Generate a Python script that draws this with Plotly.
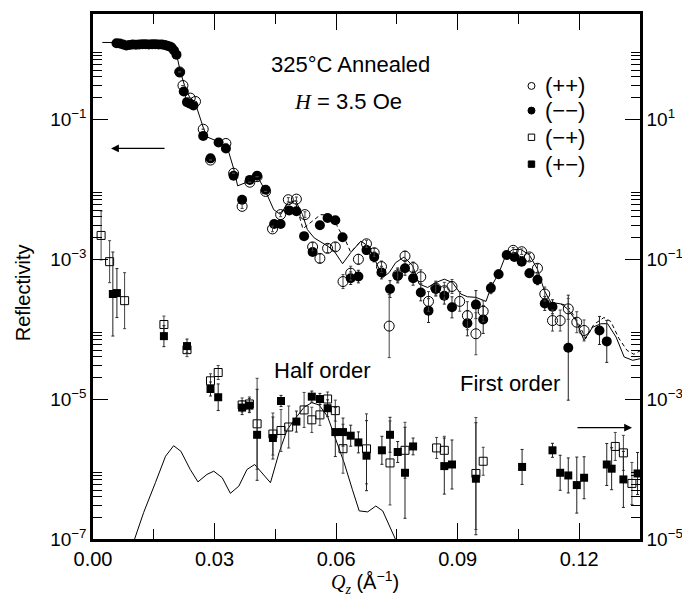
import plotly.graph_objects as go

# ---------------- data ----------------
# (--) filled circles
mm_q = [0.0058, 0.0066, 0.0074, 0.0082, 0.0090, 0.0098, 0.0106, 0.0114, 0.0122, 0.0130,
        0.0138, 0.0146, 0.0154, 0.0162, 0.0170, 0.0177, 0.0183, 0.0189, 0.0194, 0.0200,
        0.0206, 0.0214, 0.0224, 0.0232, 0.0240, 0.0248, 0.0272, 0.0290, 0.0310, 0.0328,
        0.0347, 0.0368, 0.0387, 0.0405, 0.0426, 0.0447, 0.0463, 0.0484, 0.0502, 0.0521,
        0.0542, 0.0560, 0.0579, 0.0598, 0.0616, 0.0636, 0.0655, 0.0675, 0.0694, 0.0712,
        0.0733, 0.0752, 0.0770, 0.0790, 0.0809, 0.0828, 0.0846, 0.0867, 0.0886, 0.0924,
        0.0945, 0.0963, 0.0982, 0.1001, 0.1021, 0.1040, 0.1058, 0.1077, 0.1097, 0.1115,
        0.1134, 0.1173, 0.1250, 0.1268]
mm_r = [1.21, 1.20, 1.16, 1.12, 1.14, 1.16, 1.15, 1.16, 1.17, 1.17,
        1.16, 1.17, 1.17, 1.16, 1.16, 1.14, 1.11, 1.09, 1.05, 0.95,
        0.83, 0.464, 0.247, 0.174, 0.165, 0.156, 0.0574, 0.0274, 0.0461, 0.0379,
        0.0155, 7.03e-3, 0.0135, 0.0155, 9.75e-3, 3.17e-3, 3.17e-3, 4.95e-3, 4.80e-3, 2.12e-3,
        1.26e-3, 3.03e-3, 3.85e-3, 3.57e-3, 2.05e-3, 5.32e-4, 5.61e-4, 1.34e-3, 1.07e-3, 6.40e-4,
        3.72e-4, 5.74e-4, 7.38e-4, 5.32e-4, 3.33e-4, 1.83e-4, 3.72e-4, 2.99e-4, 2.04e-4, 1.21e-4,
        2.23e-4, 1.37e-4, 3.84e-4, 6.07e-4, 1.14e-3, 1.07e-3, 9.16e-4, 6.27e-4, 5.04e-4, 2.32e-4,
        2.08e-4, 5.41e-5, 9.53e-5, 6.65e-5]
# error half-widths in decades
mm_err = [0] * 34 + [0.03, 0.03, 0.03, 0.03, 0.03, 0.04,
                     0.05, 0.04, 0.04, 0.04, 0.05, 0.09, 0.09, 0.06, 0.07, 0.09,
                     0.12, 0.10, 0.10, 0.10, 0.12, 0.17, 0.10, 0.12, 0.15, 0.18,
                     0.20, 0.20, 0.08, 0.06, 0.04, 0.04, 0.05, 0.06, 0.07, 0.10,
                     0.10, 0.75, 0.20, 0.30]

# (++) open circles
pp_q = [0.0214, 0.0222, 0.0240, 0.0253, 0.0272, 0.0290, 0.0328, 0.0347, 0.0368, 0.0387,
        0.0405, 0.0426, 0.0443, 0.0463, 0.0482, 0.0502, 0.0523, 0.0542, 0.0560, 0.0579,
        0.0598, 0.0617, 0.0636, 0.0655, 0.0675, 0.0694, 0.0712, 0.0731, 0.0752, 0.0770,
        0.0790, 0.0809, 0.0828, 0.0846, 0.0867, 0.0886, 0.0905, 0.0924, 0.0945, 0.0963,
        0.1037, 0.1058, 0.1077, 0.1097, 0.1115, 0.1134, 0.1153, 0.1173, 0.1194, 0.1212]
pp_r = [0.47, 0.301, 0.199, 0.178, 0.0715, 0.0259, 0.0447, 0.0168, 5.65e-3, 0.0125,
        0.0150, 9.23e-3, 2.69e-3, 4.31e-3, 7.03e-3, 7.17e-3, 4.31e-3, 1.49e-3, 1.02e-3, 1.42e-3,
        1.49e-3, 4.76e-4, 6.27e-4, 9.91e-4, 1.65e-3, 1.23e-3, 7.78e-4, 1.10e-4, 5.93e-4, 1.10e-3,
        7.53e-4, 5.56e-4, 2.48e-4, 3.84e-4, 3.52e-4, 4.05e-4, 2.48e-4, 1.55e-4, 8.55e-5, 1.79e-4,
        1.33e-3, 1.27e-3, 1.07e-3, 7.38e-4, 3.16e-4, 1.32e-4, 1.32e-4, 1.94e-4, 1.25e-4, 9.53e-5]
pp_err = [0, 0, 0, 0, 0, 0, 0, 0, 0.03, 0,
          0, 0, 0.04, 0.03, 0.03, 0.03, 0.04, 0.06, 0.06, 0.06,
          0.06, 0.10, 0.10, 0.07, 0.05, 0.06, 0.08, 0.45, 0.10, 0.07,
          0.08, 0.10, 0.14, 0.10, 0.12, 0.10, 0.14, 0.20, 0.30, 0.15,
          0.04, 0.04, 0.05, 0.06, 0.10, 0.15, 0.15, 0.15, 0.15, 0.15]

# (-+) open squares
mp_q = [0.0020, 0.0041, 0.0078, 0.0175, 0.0232, 0.0290, 0.0309, 0.0368, 0.0386, 0.0405,
        0.0444, 0.0464, 0.0483, 0.0521, 0.0540, 0.0560, 0.0579, 0.0598, 0.0617, 0.0675,
        0.0733, 0.0770, 0.0848, 0.0867, 0.0945, 0.0963, 0.1289, 0.1309, 0.1330]
mp_r = [2.17e-3, 9.16e-4, 2.54e-4, 1.16e-4, 5.07e-5, 1.82e-5, 2.39e-5, 8.22e-6, 8.49e-6, 4.42e-6,
        3.16e-6, 3.55e-6, 3.98e-6, 6.98e-6, 5.04e-6, 5.93e-6, 1.0e-5, 6.82e-6, 1.95e-6, 1.94e-6,
        1.22e-6, 1.85e-6, 2.0e-6, 1.85e-6, 8.63e-7, 1.29e-6, 2.10e-6, 1.70e-6, 6.22e-7]
mp_err = [0.35, 0.30, 0.40, 0.12, 0.10, 0.10, 0.10, 0.10, 0.10, 0.65,
          0.30, 0.30, 0.30, 0.25, 0.18, 0.15, 0.10, 0.15, 0.35, 0.50,
          0.60, 0.40, 0.15, 0.20, 0.80, 0.20, 0.20, 0.25, 0.30]

# (+-) filled squares
pm_q = [0.0049, 0.0059, 0.0175, 0.0232, 0.0290, 0.0309, 0.0368, 0.0386, 0.0405, 0.0444,
        0.0464, 0.0502, 0.0540, 0.0560, 0.0579, 0.0598, 0.0617, 0.0636, 0.0655, 0.0675,
        0.0713, 0.0733, 0.0752, 0.0770, 0.0790, 0.0867, 0.0886, 0.0945, 0.1059, 0.1134,
        0.1153, 0.1173, 0.1194, 0.1212, 0.1268, 0.1280, 0.1309, 0.1344]
pm_r = [3.16e-4, 3.26e-4, 7.91e-5, 5.70e-5, 1.39e-5, 1.06e-5, 7.54e-6, 8.04e-6, 3.08e-6, 2.77e-6,
        9.37e-6, 4.76e-6, 1.08e-5, 1.0e-5, 7.38e-6, 3.37e-6, 3.37e-6, 2.99e-6, 2.40e-6, 1.55e-6,
        1.85e-6, 3.08e-6, 1.75e-6, 8.83e-7, 2.10e-6, 1.10e-6, 1.16e-6, 7.26e-7, 1.07e-6, 1.85e-6,
        8.83e-7, 8.09e-7, 5.89e-7, 7.50e-7, 1.16e-6, 1.01e-6, 7.10e-7, 8.63e-7]
pm_err = [0.60, 0.35, 0.15, 0.10, 0.10, 0.19, 0.10, 0.10, 0.65, 0.30,
          0.08, 0.15, 0.08, 0.08, 0.12, 0.35, 0.20, 0.15, 0.15, 0.50,
          0.20, 0.25, 0.15, 0.65, 0.12, 0.40, 0.35, 0.80, 0.25, 0.10,
          0.25, 0.25, 0.40, 0.30, 0.30, 0.30, 0.40, 0.30]

# non-spin-flip fit (solid)
fit_q = [0.0023, 0.0059, 0.0192, 0.0207, 0.0216, 0.0226, 0.0240, 0.0257, 0.0273, 0.0281,
         0.0310, 0.0331, 0.0347, 0.0357, 0.0384, 0.0405, 0.0426, 0.0446, 0.0463, 0.0480,
         0.0500, 0.0517, 0.0529, 0.0546, 0.0579, 0.0595, 0.0616, 0.0636, 0.0661, 0.0679,
         0.0694, 0.0715, 0.0731, 0.0747, 0.0768, 0.0789, 0.0805, 0.0826, 0.0846, 0.0867,
         0.0887, 0.0908, 0.0924, 0.0945, 0.0970, 0.0982, 0.1002, 0.1019, 0.1036, 0.1056,
         0.1077, 0.1097, 0.1114, 0.1130, 0.1155, 0.1171, 0.1192, 0.1212, 0.1233, 0.1254,
         0.1270, 0.1291, 0.1311, 0.1332, 0.1352]
fit_r = [1.24, 1.24, 1.20, 0.80, 0.464, 0.301, 0.194, 0.140, 0.0728, 0.0556,
         0.0472, 0.0401, 0.0197, 0.0111, 0.0128, 0.0155, 9.23e-3, 5.07e-3, 4.31e-3, 6.30e-3,
         6.81e-3, 4.31e-3, 2.64e-3, 2.00e-3, 1.53e-3, 1.30e-3, 8.57e-4, 1.23e-3, 1.80e-3, 1.53e-3,
         1.04e-3, 5.43e-4, 6.40e-4, 8.87e-4, 1.07e-3, 7.96e-4, 4.38e-4, 3.92e-4, 4.61e-4, 5.15e-4,
         4.61e-4, 3.16e-4, 2.89e-4, 2.83e-4, 2.48e-4, 3.92e-4, 6.40e-4, 1.14e-3, 1.37e-3, 1.37e-3,
         1.14e-3, 7.14e-4, 3.52e-4, 2.40e-4, 2.28e-4, 1.94e-4, 1.32e-4, 6.87e-5, 1.06e-4, 1.19e-4,
         1.19e-4, 7.66e-5, 3.98e-5, 3.57e-5, 3.78e-5]

# second fit (dashed), where it separates from the solid one
dash_q = [0.0463, 0.0480, 0.0500, 0.0518, 0.0542, 0.0562, 0.0594, 0.0603, 0.0624, 0.0636, 0.0661,
          None,
          0.1155, 0.1171, 0.1197, 0.1216, 0.1236, 0.1261, 0.1278, 0.1298, 0.1318, 0.1335, 0.1352]
dash_r = [4.5e-3, 6.2e-3, 6.4e-3, 2.7e-3, 3.5e-3, 4.3e-3, 4.2e-3, 2.9e-3, 1.8e-3, 1.25e-3, 1.8e-3,
          None,
          2.28e-4, 2.16e-4, 1.24e-4, 7.33e-5, 1.16e-4, 1.46e-4, 1.28e-4, 7.33e-5, 4.95e-5, 4.35e-5, 4.95e-5]

# spin-flip fit (solid, lower)
sf_q = [0.0100, 0.0125, 0.0154, 0.0179, 0.0199, 0.0217, 0.0240, 0.0259, 0.0281, 0.0298,
        0.0319, 0.0339, 0.0360, 0.0380, 0.0399, 0.0417, 0.0438, 0.0459, 0.0479, 0.0500,
        0.0521, 0.0540, 0.0558, 0.0579, 0.0599, 0.0620, 0.0640, 0.0657, 0.0678, 0.0698,
        0.0715, 0.0731, 0.0746, 0.0755]
sf_r = [9.0e-8, 2.39e-7, 6.37e-7, 1.52e-6, 2.15e-6, 1.79e-6, 9.84e-7, 6.55e-7, 8.35e-7, 9.31e-7,
        7.50e-7, 4.49e-7, 5.70e-7, 9.84e-7, 1.16e-6, 8.83e-7, 6.37e-7, 1.70e-6, 3.63e-6, 5.32e-6,
        7.62e-6, 8.87e-6, 8.22e-6, 5.61e-6, 2.61e-6, 1.22e-6, 5.12e-7, 2.52e-7, 2.44e-7, 2.96e-7,
        2.52e-7, 1.55e-7, 1.0e-7, 7.7e-8]

x_ticks = [0.0, 0.03, 0.06, 0.09, 0.12]
x_ticktext = ["0.00", "0.03", "0.06", "0.09", "0.12"]
yl_ticks = [1e-7, 1e-5, 1e-3, 1e-1]
yl_ticktext = ["10<sup>\u22127</sup>", "10<sup>\u22125</sup>", "10<sup>\u22123</sup>", "10<sup>\u22121</sup>"]
yr_ticks = [1e-5, 1e-3, 1e-1, 1e1]
yr_ticktext = ["10<sup>\u22125</sup>", "10<sup>\u22123</sup>", "10<sup>\u22121</sup>", "10<sup>1</sup>"]
legend_labels = ["(++)", "(\u2212\u2212)", "(\u2212+)", "(+\u2212)"]

FONT = "Liberation Sans"


def err_bars(vals, dex, color):
    plus = [v * (10 ** d - 1) for v, d in zip(vals, dex)]
    minus = [v * (1 - 10 ** (-d)) for v, d in zip(vals, dex)]
    return dict(type="data", symmetric=False, array=plus, arrayminus=minus,
                thickness=1, width=1.5, color=color, visible=True)


fig = go.Figure()

# fit curves
fig.add_trace(go.Scatter(x=fit_q, y=fit_r, mode="lines",
                         line=dict(color="black", width=1), hoverinfo="skip"))
fig.add_trace(go.Scatter(x=dash_q, y=dash_r, mode="lines", connectgaps=False,
                         line=dict(color="black", width=1, dash="4px,3px"), hoverinfo="skip"))
fig.add_trace(go.Scatter(x=sf_q, y=sf_r, mode="lines",
                         line=dict(color="black", width=1), hoverinfo="skip"))

# spin-flip data
fig.add_trace(go.Scatter(x=mp_q, y=mp_r, mode="markers", name="(-+)",
                         marker=dict(symbol="square-open", size=8, color="black",
                                     line=dict(width=1, color="black")),
                         error_y=err_bars(mp_r, mp_err, "#444")))
fig.add_trace(go.Scatter(x=pm_q, y=pm_r, mode="markers", name="(+-)",
                         marker=dict(symbol="square", size=8, color="black"),
                         error_y=err_bars(pm_r, pm_err, "#222")))
# non-spin-flip data
fig.add_trace(go.Scatter(x=mm_q, y=mm_r, mode="markers", name="(--)",
                         marker=dict(symbol="circle", size=10, color="black"),
                         error_y=err_bars(mm_r, mm_err, "#222")))
fig.add_trace(go.Scatter(x=pp_q, y=pp_r, mode="markers", name="(++)",
                         marker=dict(symbol="circle-open", size=10, color="black",
                                     line=dict(width=1, color="black")),
                         error_y=err_bars(pp_r, pp_err, "#444")))

# invisible trace anchoring the right axis
fig.add_trace(go.Scatter(x=[0.0], y=[1.0], yaxis="y2", mode="markers",
                         marker=dict(size=1, opacity=0), hoverinfo="skip"))

minor_left = [k * 10.0 ** d for d in (-7, -5, -3, -1) for k in range(2, 10)]
minor_right = [k * 10.0 ** d for d in (-5, -3, -1, 1) for k in range(2, 10)]

axis_common = dict(showline=True, linecolor="black", linewidth=2.5, ticks="inside",
                   tickcolor="black", tickwidth=1.4, showgrid=False, zeroline=False)

# page body has an 8px margin, so the figure is 8px smaller than the window
fig.update_layout(
    width=682, height=589,
    margin=dict(l=85, r=50, t=3, b=58),
    plot_bgcolor="white", paper_bgcolor="white",
    showlegend=False,
    font=dict(family=FONT, color="black"),
    xaxis=dict(range=[0, 0.135], tickvals=x_ticks, ticktext=x_ticktext, ticklen=16,
               mirror="ticks", tickfont=dict(size=20, family=FONT),
               minor=dict(tickvals=[0.015, 0.045, 0.075, 0.105], ticklen=10,
                          tickwidth=1.4, tickcolor="black", ticks="inside"),
               **axis_common),
    yaxis=dict(type="log", range=[-7, 0.5], tickvals=yl_ticks, ticktext=yl_ticktext,
               ticklen=15, tickfont=dict(size=19, family=FONT),
               minor=dict(tickvals=minor_left, ticklen=9, tickwidth=1.2,
                          tickcolor="black", ticks="inside"),
               **axis_common),
    yaxis2=dict(type="log", range=[-5, 2.5], overlaying="y", side="right",
                tickvals=yr_ticks, ticktext=yr_ticktext, ticklen=15,
                tickfont=dict(size=19, family=FONT),
                minor=dict(tickvals=minor_right, ticklen=9, tickwidth=1.2,
                           tickcolor="black", ticks="inside"),
                **axis_common),
)


def txt(text, x, y, size=22, **kw):
    d = dict(text=text, x=x, y=y, xref="paper", yref="paper", showarrow=False,
             xanchor="center", yanchor="middle", font=dict(size=size, family=FONT))
    d.update(kw)
    return d


ann = [
    txt("325\u00b0C Annealed", 0.47, 0.903),
    txt("<span style='font-family:Liberation Serif'><i>H</i></span> = 3.5 Oe", 0.466, 0.833),
    txt("Half order", 0.419, 0.32),
    txt("First order", 0.762, 0.2955),
    txt("Reflectivity", -0.128, 0.47, size=20, textangle=-90),
    txt("<span style='font-family:Liberation Serif'><i>Q<sub>z</sub></i></span> (\u00c5<sup>\u22121</sup>)",
        0.497, -0.083, size=20),
    # arrows
    dict(text="", x=0.033, y=0.744, xref="paper", yref="paper",
         showarrow=True, ax=55, ay=0, arrowhead=2, arrowsize=1.3, arrowwidth=1.2,
         arrowcolor="black"),
    dict(text="", x=0.9854, y=0.212, xref="paper", yref="paper",
         showarrow=True, ax=-56, ay=0, arrowhead=2, arrowsize=1.3, arrowwidth=1.2,
         arrowcolor="black"),
]

# legend text
leg_y = [0.8630, 0.8160, 0.7652, 0.7140]
for lbl, yy in zip(legend_labels, leg_y):
    ann.append(txt(lbl, 0.8227, yy, xanchor="left"))
fig.update_layout(annotations=ann)

# legend symbols
lx = 0.8016
rx, ry = 3.5 / 547, 3.5 / 528
sq = 3.2
shapes = [
    dict(type="circle", xref="paper", yref="paper", x0=lx - rx, x1=lx + rx,
         y0=leg_y[0] - ry, y1=leg_y[0] + ry, line=dict(color="black", width=1)),
    dict(type="circle", xref="paper", yref="paper", x0=lx - rx, x1=lx + rx,
         y0=leg_y[1] - ry, y1=leg_y[1] + ry, line=dict(color="black", width=1),
         fillcolor="black"),
    dict(type="rect", xref="paper", yref="paper", x0=lx - sq / 547, x1=lx + sq / 547,
         y0=leg_y[2] - sq / 528, y1=leg_y[2] + sq / 528, line=dict(color="black", width=1)),
    dict(type="rect", xref="paper", yref="paper", x0=lx - sq / 547, x1=lx + sq / 547,
         y0=leg_y[3] - sq / 528, y1=leg_y[3] + sq / 528, line=dict(color="black", width=1),
         fillcolor="black"),
]
fig.update_layout(shapes=shapes)

fig.write_html("out.html")
